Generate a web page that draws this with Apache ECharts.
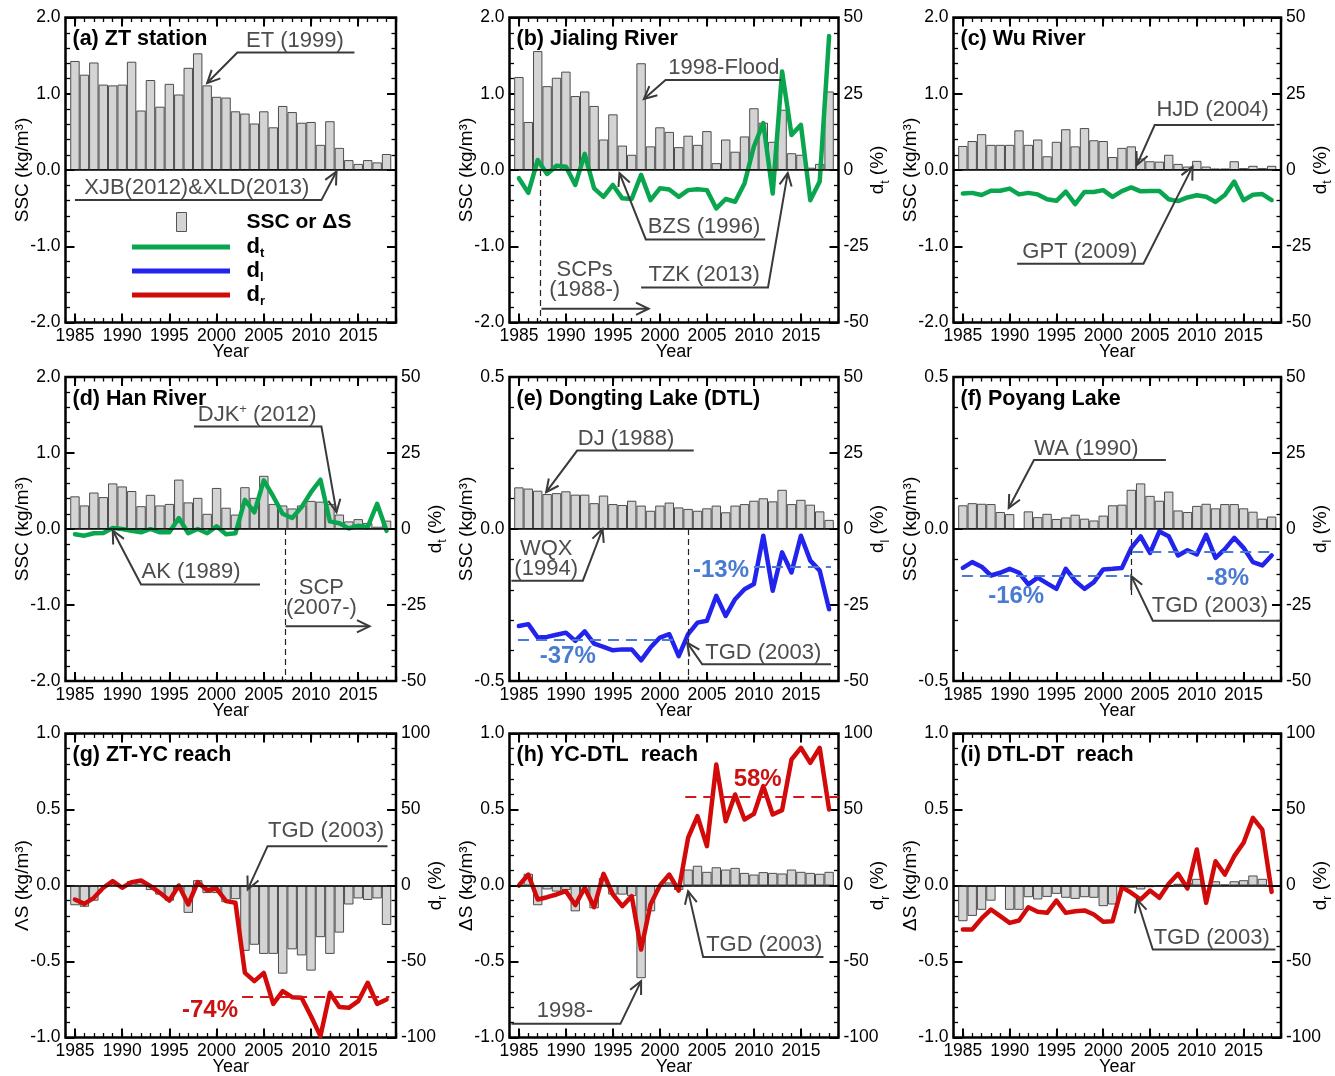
<!DOCTYPE html>
<html>
<head>
<meta charset="utf-8">
<script src="https://cdn.jsdelivr.net/npm/echarts@6/dist/echarts.min.js"></script>
<style>
html, body { margin: 0; padding: 0; background: #fff; }
#chart { width: 1335px; height: 1076px; }
</style>
</head>
<body>
<div id="chart"></div>
<script>
var FONT = 'Liberation Sans';

var years = [1985,1986,1987,1988,1989,1990,1991,1992,1993,1994,1995,1996,1997,1998,1999,2000,2001,
             2002,2003,2004,2005,2006,2007,2008,2009,2010,2011,2012,2013,2014,2015,2016,2017,2018];
var majorYears = [1985, 1990, 1995, 2000, 2005, 2010, 2015];

// (a) ZT station
var ztSSC = [1.43,1.25,1.41,1.12,1.11,1.12,1.42,0.78,1.18,0.83,1.13,0.99,1.34,1.53,1.11,0.96,0.95,0.77,0.74,0.61,0.77,0.56,0.84,0.76,0.62,0.63,0.33,0.64,0.29,0.13,0.08,0.13,0.10,0.21];
// (b) Jialing River
var jlSSC = [1.22,0.63,1.56,1.10,1.21,1.29,0.97,1.03,0.84,0.40,0.73,0.32,0.20,1.40,0.31,0.56,0.50,0.30,0.45,0.33,0.51,0.09,0.40,0.24,0.44,0.81,0.62,0.37,0.79,0.22,0.20,0.03,0.08,1.03];
var jlDt = [-2.7,-7.5,3.3,-1.3,1.4,1.1,-4.9,5.3,-6.0,-8.8,-4.9,-9.3,-9.5,-1.6,-9.9,-6.0,-6.4,-8.8,-6.6,-6.3,-6.6,-12.6,-9.5,-10.4,-4.4,7.7,15.4,-7.7,32.3,11.5,14.8,-9.9,-3.8,43.9];
// (c) Wu River
var wuSSC = [0.315,0.38,0.47,0.33,0.33,0.33,0.52,0.33,0.40,0.18,0.37,0.535,0.31,0.55,0.39,0.38,0.17,0.29,0.31,0.15,0.115,0.11,0.20,0.08,0.045,0.12,0.045,0.02,0.02,0.115,0.025,0.055,0.025,0.055];
var wuDt = [-7.7,-7.5,-8.2,-6.8,-6.8,-6.1,-8.0,-7.5,-8.0,-9.6,-10.1,-7.1,-11.2,-7.2,-7.2,-6.6,-8.8,-6.9,-5.7,-7.0,-6.9,-6.9,-9.6,-10.2,-9.0,-8.3,-8.8,-10.5,-8.2,-3.8,-9.9,-8.1,-7.9,-9.9];
// (d) Han River
var hanSSC = [0.43,0.31,0.48,0.42,0.60,0.56,0.50,0.30,0.45,0.31,0.33,0.65,0.35,0.41,0.20,0.54,0.28,0.19,0.55,0.41,0.70,0.33,0.31,0.27,0.31,0.37,0.36,0.33,0.19,0.10,0.13,0.08,0.03,0.11];
var hanDt = [-1.7,-2.2,-1.4,-1.3,0.3,0,-0.6,-1.1,0,-1.1,-1.1,3.6,-1.4,0,-1.4,0.9,-1.7,-1.4,9.6,5.5,16.0,10.7,5.0,3.6,7.2,12.1,16.2,2.5,1.9,0.2,1.1,0.6,8.3,-0.6];
// (e) Dongting Lake
var dtlSSC = [0.137,0.133,0.126,0.115,0.118,0.124,0.113,0.113,0.085,0.11,0.082,0.079,0.093,0.077,0.060,0.077,0.087,0.071,0.066,0.060,0.068,0.077,0.055,0.077,0.082,0.093,0.101,0.091,0.129,0.082,0.096,0.080,0.058,0.030];
var dtlDl = [-31.9,-31.3,-35.7,-35.5,-34.8,-34.1,-36.8,-33.7,-37.7,-38.8,-39.9,-39.6,-39.6,-43.2,-39.0,-35.7,-34.6,-41.8,-34.6,-30.8,-30.2,-22.0,-28.6,-23.1,-19.8,-18.1,-2.2,-20.3,-7.7,-14.3,-2.2,-10.4,-13.7,-26.4];
// (f) Poyang Lake
var pyjSSC = [0.078,0.085,0.083,0.082,0.056,0.049,0,0.058,0.039,0.050,0.033,0.038,0.047,0.034,0.028,0.044,0.078,0.080,0.129,0.150,0.109,0.093,0.123,0.061,0.056,0.076,0.083,0.068,0.082,0.082,0.068,0.057,0.034,0.041];
var pyjDl = [-12.8,-10.9,-12.4,-15.3,-14.4,-13.1,-14.4,-18.2,-16.0,-17.9,-19.7,-13.1,-17.1,-19.7,-17.5,-13.3,-13.1,-12.8,-6.2,-2.4,-7.9,-0.8,-2.4,-8.7,-7.0,-8.4,-1.9,-9.5,-6.6,-2.9,-6.2,-10.9,-12.0,-8.7];
// (g) ZT-YC reach
var ztycDS = [-0.13,-0.14,-0.10,0,0.02,0,0.03,0.03,-0.03,-0.06,-0.10,-0.03,-0.18,0.035,-0.05,-0.05,-0.11,-0.09,-0.43,-0.39,-0.45,-0.45,-0.58,-0.42,-0.46,-0.56,-0.34,-0.45,-0.31,-0.125,-0.085,-0.095,-0.085,-0.26];
var ztycDr = [-9.2,-12.1,-8.1,-1.5,2.9,-1.5,2.2,3.3,-0.4,-4.8,-9.9,0,-12.5,2.2,-3.1,-2.0,-10.3,-11.4,-57.5,-62.9,-57.5,-77.9,-69.5,-73.5,-73.9,-86.0,-99.1,-70.6,-80.0,-80.5,-76.1,-64.0,-77.9,-75.0];
// (h) YC-DTL reach
var ycdtlDS = [0,0.077,-0.13,-0.026,-0.04,-0.03,-0.17,-0.04,-0.15,0.05,-0.06,-0.06,-0.07,-0.61,-0.17,0,0.02,-0.03,0.105,0.13,0.09,0.12,0.105,0.116,0.083,0.072,0.088,0.083,0.079,0.105,0.09,0.083,0.077,0.09];
var ycdtlDr = [0,7.2,-9.2,-7.7,-5.9,-3.7,-12.9,-1.5,-14.3,7.7,-5.9,-13.6,-7.0,-42.1,-12.5,0,7.2,-3.3,31.4,45.6,25.9,79.6,42.3,59.9,43.4,47.1,65.4,46.7,49.6,82.9,90.6,80.7,90.6,50.0];
// (i) DTL-DT reach
var dtldtDS = [-0.235,-0.20,-0.16,-0.10,0,-0.16,-0.16,-0.077,-0.092,-0.075,-0.055,-0.081,-0.088,-0.077,-0.081,-0.136,-0.125,-0.011,-0.015,-0.026,-0.011,-0.004,-0.004,0.011,0.018,0.044,0,0.028,0.007,0.028,0.035,0.066,0.044,-0.004];
var dtldtDr = [-28.9,-28.9,-21.7,-15.8,-20.2,-24.6,-23.0,-14.3,-17.3,-18.0,-9.9,-18.0,-16.9,-16.4,-19.1,-23.9,-23.5,-1.1,-4.8,-9.2,-3.3,-8.1,1.1,7.7,-2.0,23.7,-11.4,16.0,7.2,19.3,28.1,44.5,36.8,-4.2];

var GREEN = '#0aa64f', BLUE = '#2323ee', RED = '#d20a0a';
var BLUE_D = '#4a7bd2', RED_D = '#d41818';

var colLeft = [65.5, 509.5, 953.5], colWidth = [330.5, 329, 327.5];
var rowTop = [17.5, 377, 733.5], rowHeight = [305, 304, 304];

var ssc = 'SSC (kg/m³)';
var panels = [
  {title: '(a) ZT station', col: 0, row: 0, bars: ztSSC, line: null, color: null,
   lmin: -2, lmax: 2, lint: 1, lname: ssc, rmin: -2, rmax: 2, rint: 1, rsub: null,
   vlines: [], means: [],
   notes: [
     {text: 'ET (1999)', at: [2008.3, 1.69], path: [[2014.6, 1.54], [2002.2, 1.54], [1999.0, 1.14]]},
     {text: 'XJB(2012)&XLD(2013)', at: [1997.9, -0.24], path: [[1985.0, -0.395], [2011.1, -0.395], [2012.7, -0.02]]}
   ]},
  {title: '(b) Jialing River', col: 1, row: 0, bars: jlSSC, line: jlDt, color: GREEN,
   lmin: -2, lmax: 2, lint: 1, lname: ssc, rmin: -50, rmax: 50, rint: 25, rsub: 't',
   vlines: [[1987.3, 0, -2]], means: [],
   notes: [
     {text: '1998-Flood', at: [2006.8, 1.34], path: [[2012.9, 1.18], [2000.6, 1.18], [1998.3, 0.93]]},
     {text: 'BZS (1996)', at: [2004.7, -0.75], path: [[2011.2, -0.91], [1998.5, -0.91], [1995.7, -0.04]]},
     {text: 'TZK (2013)', at: [2004.7, -1.38], path: [[1998.0, -1.54], [2011.5, -1.54], [2013.6, -0.04]]},
     {text: 'SCPs\n(1988-)', at: [1992.0, -1.44], path: [[1987.4, -1.82], [1998.8, -1.82]]}
   ]},
  {title: '(c) Wu River', col: 2, row: 0, bars: wuSSC, line: wuDt, color: GREEN,
   lmin: -2, lmax: 2, lint: 1, lname: ssc, rmin: -50, rmax: 50, rint: 25, rsub: 't',
   vlines: [], means: [],
   notes: [
     {text: 'HJD (2004)', at: [2011.7, 0.79], path: [[2018.3, 0.59], [2005.5, 0.59], [2003.6, 0.066]]},
     {text: 'GPT (2009)', at: [1997.5, -1.07], path: [[1990.8, -1.23], [2004.3, -1.23], [2009.55, 0.044]]}
   ]},
  {title: '(d) Han River', col: 0, row: 1, bars: hanSSC, line: hanDt, color: GREEN,
   lmin: -2, lmax: 2, lint: 1, lname: ssc, rmin: -50, rmax: 50, rint: 25, rsub: 't',
   vlines: [[2007.3, 0, -2]], means: [],
   notes: [
     {text: '{n|DJK}{p|+}{n| (2012)}', at: [2004.3, 1.50], path: [[1997.6, 1.35], [2011.1, 1.35], [2012.7, 0.22]]},
     {text: 'AK (1989)', at: [1997.3, -0.57], path: [[2004.6, -0.73], [1992.0, -0.73], [1989.0, -0.02]]},
     {text: 'SCP\n(2007-)', at: [2011.1, -0.905], path: [[2007.3, -1.28], [2016.2, -1.28]]}
   ]},
  {title: '(e) Dongting Lake (DTL)', col: 1, row: 1, bars: dtlSSC, line: dtlDl, color: BLUE,
   lmin: -0.5, lmax: 0.5, lint: 0.5, lname: ssc, rmin: -50, rmax: 50, rint: 25, rsub: 'l',
   vlines: [[2003, 0, -0.5]],
   means: [[1984.9, 2001.9, -36.5, BLUE_D], [2010.0, 2018.2, -12.5, BLUE_D]],
   notes: [
     {text: 'DJ (1988)', at: [1996.4, 0.297], path: [[2003.6, 0.258], [1991.2, 0.258], [1987.9, 0.121]]},
     {text: 'WQX\n(1994)', at: [1987.9, -0.099], path: [[1984.2, -0.17], [1991.8, -0.17], [1993.9, 0.0]]},
     {text: 'TGD (2003)', at: [2011.0, -0.407], path: [[2018.2, -0.445], [2004.5, -0.445], [2002.9, -0.374]]},
     {text: '-13%', at: [2006.5, -0.135], pct: BLUE_D},
     {text: '-37%', at: [1990.2, -0.418], pct: BLUE_D}
   ]},
  {title: '(f) Poyang Lake', col: 2, row: 1, bars: pyjSSC, line: pyjDl, color: BLUE,
   lmin: -0.5, lmax: 0.5, lint: 0.5, lname: ssc, rmin: -50, rmax: 50, rint: 25, rsub: 'l',
   vlines: [[2003, 0, -0.225]],
   means: [[1984.9, 2002.8, -15.5, BLUE_D], [2003.1, 2018.3, -7.5, BLUE_D]],
   notes: [
     {text: 'WA (1990)', at: [1998.2, 0.262], path: [[2006.7, 0.227], [1992.6, 0.227], [1989.9, 0.069]]},
     {text: 'TGD (2003)', at: [2011.4, -0.253], path: [[2018.95, -0.302], [2005.3, -0.302], [2003.0, -0.155]]},
     {text: '-16%', at: [1990.7, -0.223], pct: BLUE_D},
     {text: '-8%', at: [2013.3, -0.163], pct: BLUE_D}
   ]},
  {title: '(g) ZT-YC reach', col: 0, row: 2, bars: ztycDS, line: ztycDr, color: RED,
   lmin: -1, lmax: 1, lint: 0.5, lname: 'ΛS (kg/m³)', rmin: -100, rmax: 100, rint: 50, rsub: 'r',
   vlines: [], means: [[2002.7, 2018.3, -73.5, RED_D]],
   notes: [
     {text: 'TGD (2003)', at: [2011.6, 0.357], path: [[2018.1, 0.259], [2005.4, 0.259], [2003.3, -0.026]]},
     {text: '-74%', at: [1999.3, -0.822], pct: '#cc1111'}
   ]},
  {title: '(h) YC-DTL  reach', col: 1, row: 2, bars: ycdtlDS, line: ycdtlDr, color: RED,
   lmin: -1, lmax: 1, lint: 0.5, lname: 'ΔS (kg/m³)', rmin: -100, rmax: 100, rint: 50, rsub: 'r',
   vlines: [], means: [[2002.7, 2019, 58.2, RED_D]],
   notes: [
     {text: 'TGD (2003)', at: [2011.1, -0.388], path: [[2017.4, -0.471], [2004.6, -0.471], [2003.0, -0.037]]},
     {text: '1998-', at: [1989.9, -0.827], path: [[1984.2, -0.91], [1995.8, -0.91], [1998.0, -0.629]]},
     {text: '58%', at: [2010.4, 0.697], pct: '#cc1111'}
   ]},
  {title: '(i) DTL-DT  reach', col: 2, row: 2, bars: dtldtDS, line: dtldtDr, color: RED,
   lmin: -1, lmax: 1, lint: 0.5, lname: 'ΔS (kg/m³)', rmin: -100, rmax: 100, rint: 50, rsub: 'r',
   vlines: [], means: [],
   notes: [
     {text: 'TGD (2003)', at: [2011.6, -0.344], path: [[2018.4, -0.421], [2005.3, -0.421], [2003.6, -0.092]]}
   ]}
];

function pairs(vals) {
  return years.map(function (y, k) { return [y, vals[k]]; });
}

var chart = echarts.init(document.getElementById('chart'));
var grids = [], xAxes = [], yAxes = [], series = [], titles = [], barIndex = [];

panels.forEach(function (p, i) {
  var left = colLeft[p.col], top = rowTop[p.row], w = colWidth[p.col], h = rowHeight[p.row];
  p.box = {left: left, top: top, w: w, h: h};
  grids.push({left: left, top: top, width: w, height: h, show: true, borderColor: '#000', borderWidth: 2.5,
              backgroundColor: 'rgba(0,0,0,0)', outerBoundsMode: 'none', containLabel: false});
  titles.push({text: p.title, left: left + 7, top: top + 11, padding: 0,
               textStyle: {fontSize: 21.5, fontWeight: 'bold', color: '#000', fontFamily: FONT}});

  // x axes: major ticks + labels, minor ticks, then the same on top
  ['bottom', 'top'].forEach(function (pos) {
    xAxes.push({type: 'value', gridIndex: i, min: 1984, max: 2019, position: pos,
      axisLine: {show: false, onZero: false}, splitLine: {show: false},
      axisTick: {show: true, inside: true, length: 9, customValues: majorYears, lineStyle: {color: '#000', width: 2}},
      axisLabel: pos === 'bottom'
        ? {show: true, customValues: majorYears, color: '#000', fontSize: 17.5, fontFamily: FONT, margin: 5,
           formatter: function (v) { return String(v); }}
        : {show: false},
      name: pos === 'bottom' ? 'Year' : '', nameLocation: 'middle', nameGap: 21, nameMoveOverlap: false,
      nameTextStyle: {color: '#000', fontSize: 18, fontFamily: FONT}});
    xAxes.push({type: 'value', gridIndex: i, min: 1984, max: 2019, interval: 1, position: pos,
      axisLine: {show: false, onZero: false}, splitLine: {show: false}, axisLabel: {show: false},
      axisTick: {show: true, inside: true, length: 4.5, lineStyle: {color: '#000', width: 1.3}}});
  });

  yAxes.push({type: 'value', gridIndex: i, min: p.lmin, max: p.lmax, interval: p.lint, position: 'left',
    axisLine: {show: false, onZero: false}, splitLine: {show: false},
    axisTick: {inside: true, length: 9, lineStyle: {color: '#000', width: 2}},
    minorTick: {show: true, splitNumber: 5, length: 4.5, lineStyle: {color: '#000', width: 1.3}},
    minorSplitLine: {show: false},
    axisLabel: {color: '#000', fontSize: 17.5, fontFamily: FONT, margin: 5,
                formatter: function (v) { return v.toFixed(1); }},
    name: p.lname, nameLocation: 'middle', nameGap: 33, nameRotate: 90, nameMoveOverlap: false,
    nameTextStyle: {color: '#000', fontSize: 19, fontFamily: FONT}});

  var rname = p.rsub ? '{n|d}{s|' + p.rsub + '}{n| (%)}' : '';
  yAxes.push({type: 'value', gridIndex: i, min: p.rmin, max: p.rmax, interval: p.rint, position: 'right',
    axisLine: {show: false, onZero: false}, splitLine: {show: false},
    axisTick: {inside: true, length: 9, lineStyle: {color: '#000', width: 2}},
    minorTick: {show: true, splitNumber: 5, length: 4.5, lineStyle: {color: '#000', width: 1.3}},
    minorSplitLine: {show: false},
    axisLabel: {show: !!p.rsub, color: '#000', fontSize: 17.5, fontFamily: FONT, margin: 5,
                formatter: function (v) { return String(Math.round(v)); }},
    name: rname, nameLocation: 'middle', nameGap: 30, nameRotate: 90, nameMoveOverlap: false,
    nameTextStyle: {color: '#000', fontFamily: FONT,
      rich: {n: {fontSize: 19, fontFamily: FONT, color: '#000'},
             s: {fontSize: 12, fontFamily: FONT, color: '#000', verticalAlign: 'bottom', padding: [0, 0, -4, 0]}}}});

  var markData = [{yAxis: 0, lineStyle: {color: '#000', width: 1.5, type: 'solid'}}];
  p.vlines.forEach(function (v) {
    markData.push([{coord: [v[0], v[1]], lineStyle: {color: '#222', width: 1.2, type: [6, 4]}}, {coord: [v[0], v[2]]}]);
  });
  barIndex.push(series.length);
  series.push({type: 'bar', xAxisIndex: 4 * i, yAxisIndex: 2 * i, data: pairs(p.bars),
    barWidth: '100%', barCategoryGap: 0, z: 2,
    itemStyle: {color: '#d4d4d4', borderColor: '#4d4d4d', borderWidth: 1},
    markLine: {silent: true, symbol: ['none', 'none'], label: {show: false}, animation: false, data: markData}});

  if (p.line) {
    series.push({type: 'line', xAxisIndex: 4 * i, yAxisIndex: 2 * i + 1, data: pairs(p.line),
      symbol: 'none', z: 4,
      lineStyle: {color: p.color, width: 4.5, join: 'round', cap: 'round'},
      markLine: {silent: true, symbol: ['none', 'none'], label: {show: false}, animation: false,
        data: p.means.map(function (m) {
          return [{coord: [m[0], m[2]], lineStyle: {color: m[3], width: 2.2, type: [11, 7]}}, {coord: [m[1], m[2]]}];
        })}});
  }
});

chart.setOption({
  animation: false,
  backgroundColor: '#fff',
  title: titles,
  grid: grids,
  xAxis: xAxes,
  yAxis: yAxes,
  series: series
});

// annotations, placed through the panels' own scales
var NOTE = '#4d4d4d', LEAD = '#3a3a3a';
var elems = [];
function head(a, b) {
  var ang = Math.atan2(b[1] - a[1], b[0] - a[0]), L = 14, t = 0.45;
  return [[b[0] - L * Math.cos(ang - t), b[1] - L * Math.sin(ang - t)], b,
          [b[0] - L * Math.cos(ang + t), b[1] - L * Math.sin(ang + t)]];
}
panels.forEach(function (p, i) {
  function px(c) { return chart.convertToPixel({seriesIndex: barIndex[i]}, c); }
  p.notes.forEach(function (n) {
    var at = px(n.at);
    if (n.pct) {
      elems.push({type: 'text', x: at[0], y: at[1], silent: true, z: 100,
        style: {text: n.text, fill: n.pct, font: 'bold 24px "' + FONT + '"',
                textAlign: 'center', textVerticalAlign: 'middle', align: 'center', verticalAlign: 'middle'}});
      return;
    }
    var pts = n.path.map(px);
    elems.push({type: 'polyline', silent: true, z: 100, shape: {points: pts},
      style: {stroke: LEAD, lineWidth: 2, fill: null}});
    elems.push({type: 'polyline', silent: true, z: 100, shape: {points: head(pts[pts.length - 2], pts[pts.length - 1])},
      style: {stroke: LEAD, lineWidth: 2, fill: null}});
    elems.push({type: 'text', x: at[0], y: at[1], silent: true, z: 100,
      style: {text: n.text, fill: NOTE, font: '22px "' + FONT + '"', lineHeight: 20,
              textAlign: 'center', textVerticalAlign: 'middle', align: 'center', verticalAlign: 'middle',
              rich: {n: {fontSize: 22, fontFamily: FONT, color: NOTE, lineHeight: 24},
                     p: {fontSize: 13, fontFamily: FONT, color: NOTE, verticalAlign: 'top', lineHeight: 24}}}});
  });
});

// legend drawn inside panel (a)
var b = panels[0].box;
elems.push({type: 'rect', silent: true, z: 100, shape: {x: b.left + 111, y: b.top + 195, width: 10, height: 19},
  style: {fill: '#d4d4d4', stroke: '#555', lineWidth: 1}});
elems.push({type: 'text', silent: true, z: 100, x: b.left + 181, y: b.top + 204.5,
  style: {text: 'SSC or ΔS', fill: '#000', font: 'bold 21px "' + FONT + '"', textVerticalAlign: 'middle', verticalAlign: 'middle'}});
[[GREEN, 't'], [BLUE, 'l'], [RED, 'r']].forEach(function (it, k) {
  var y = b.top + 229.5 + 24 * k;
  elems.push({type: 'line', silent: true, z: 100, shape: {x1: b.left + 66.5, y1: y, x2: b.left + 164.5, y2: y},
    style: {stroke: it[0], lineWidth: 5}});
  elems.push({type: 'text', silent: true, z: 100, x: b.left + 181, y: y,
    style: {text: '{d|d}{s|' + it[1] + '}', textVerticalAlign: 'middle', verticalAlign: 'middle',
      rich: {d: {fontSize: 22, fontWeight: 'bold', fontFamily: FONT, color: '#000', lineHeight: 26},
             s: {fontSize: 13, fontWeight: 'bold', fontFamily: FONT, color: '#000', verticalAlign: 'bottom'}}}});
});

chart.setOption({graphic: {elements: elems}});
</script>
</body>
</html>
